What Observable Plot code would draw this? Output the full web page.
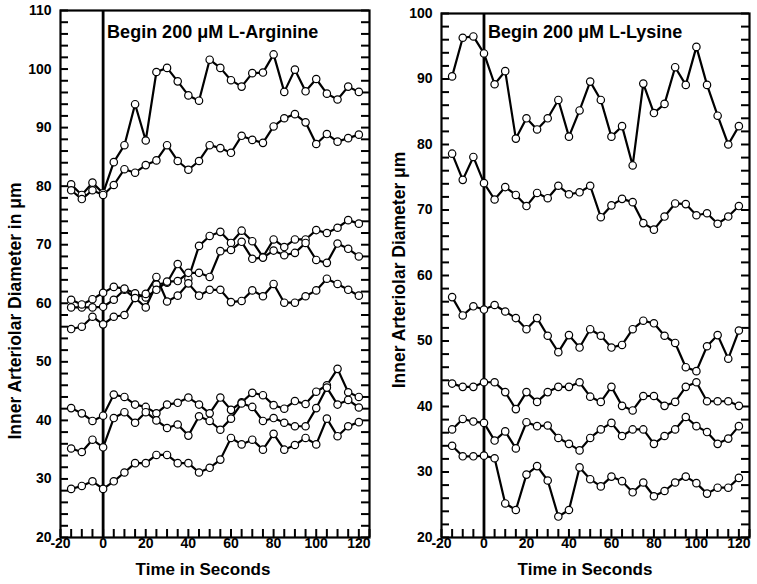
<!DOCTYPE html>
<html><head><meta charset="utf-8">
<script src="https://cdn.jsdelivr.net/npm/d3@7"></script>
<script src="https://cdn.jsdelivr.net/npm/@observablehq/plot@0.6"></script>
<style>
body{margin:0;background:#fff;}
#wrap{display:flex;width:757px;height:584px;}
#wrap svg{display:block;}
svg text{font-family:"Liberation Sans",Arial,sans-serif;font-weight:bold;fill:#000;}
</style></head><body><div id="wrap"></div>
<script>
const times = [-15,-10,-5,0,5,10,15,20,25,30,35,40,45,50,55,60,65,70,75,80,85,90,95,100,105,110,115,120];
const xMinorTicks = [-20,-15,-10,-5,0,5,10,15,20,25,30,35,40,45,50,55,60,65,70,75,80,85,90,95,100,105,110,115,120,125];
const xTickLabels = [-20,0,20,40,60,80,100,120];

// Left panel: L-Arginine
const argA = [80.3,78.5,80.6,78.8,84.1,87.0,94.0,87.8,99.5,100.2,97.9,95.5,94.6,101.6,100.2,98.1,97.0,99.3,99.4,102.5,96.1,99.9,96.2,98.3,95.8,94.8,97.0,96.1];
const argB = [79.3,77.8,79.3,78.5,80.2,82.9,82.3,83.6,84.4,87.0,84.3,82.8,84.3,87.0,86.5,85.7,88.6,87.9,87.4,90.2,91.6,92.3,90.9,87.2,88.9,87.6,88.2,88.8];
const argC = [59.3,59.3,59.3,59.4,60.6,62.3,60.9,59.3,63.2,63.5,66.7,64.2,69.8,71.5,72.2,70.3,72.4,70.6,67.9,70.9,69.6,70.9,70.9,72.5,72.0,72.9,74.2,73.6];
const argD = [60.6,59.8,60.7,61.8,62.8,62.5,61.7,61.0,62.3,63.7,63.8,65.2,65.2,64.5,68.9,69.1,70.5,67.6,67.8,69.0,68.2,68.6,70.3,67.4,66.9,70.2,69.3,68.0];
const argE = [55.6,56.0,57.7,56.4,57.7,58.0,60.9,61.6,64.5,60.3,61.3,63.4,61.3,62.3,62.3,60.2,60.4,62.2,61.2,63.3,60.1,60.1,61.2,62.2,64.2,63.3,62.3,61.3];
const argF = [42.1,41.2,39.9,40.8,44.4,44.0,42.7,42.3,41.2,42.7,43.0,43.9,42.7,41.2,43.9,41.8,43.1,44.7,44.3,42.6,42.0,43.3,42.8,44.9,46.0,48.8,44.8,44.0];
const argG = [35.2,34.6,36.7,35.4,40.4,41.4,39.6,41.4,40.0,38.7,39.3,37.4,40.7,39.9,38.4,40.3,42.9,42.3,39.9,40.4,39.6,39.0,39.0,42.1,45.6,42.7,43.5,42.2];
const argH = [28.3,28.8,29.6,28.3,29.6,31.1,32.7,32.7,34.1,34.1,32.7,32.7,31.1,31.9,33.3,37.0,35.9,36.7,35.0,37.7,35.0,35.8,37.0,35.9,40.3,37.3,39.0,39.7];

// Right panel: L-Lysine
const lysA = [90.4,96.3,96.5,93.9,89.2,91.2,80.9,84.0,82.3,84.0,86.8,81.2,85.2,89.6,86.8,81.2,82.8,76.8,89.3,84.8,86.2,91.8,89.1,94.9,89.1,84.4,80.0,82.8];
const lysB = [78.6,74.6,78.1,74.1,71.6,73.5,72.3,70.6,72.6,71.8,73.7,72.4,72.7,73.7,68.9,70.7,71.7,71.2,68.0,67.0,69.0,71.0,70.9,69.2,69.5,67.9,69.0,70.6];
const lysC = [56.7,53.9,55.3,54.8,55.5,54.5,53.5,51.8,53.5,50.8,48.3,50.9,49.0,51.8,50.8,49.0,49.4,51.8,53.1,52.7,50.8,49.7,46.0,45.4,49.2,50.9,47.3,51.6];
const lysD = [43.5,43.0,43.0,43.7,43.7,42.2,39.6,42.2,40.7,42.2,43.0,43.0,43.7,41.5,40.7,43.0,40.1,39.4,41.6,41.6,40.1,40.7,43.0,43.7,40.8,40.8,40.8,40.1];
const lysE = [36.5,38.1,37.7,37.5,34.8,36.2,33.6,37.6,37.0,37.1,35.2,34.3,33.3,35.2,36.5,37.5,35.5,36.5,36.5,34.3,35.5,36.5,38.4,37.0,36.1,34.3,35.1,37.0];
const lysF = [34.0,32.4,32.4,32.5,32.1,25.2,24.2,29.6,30.9,28.7,23.2,24.2,30.7,28.9,27.8,29.3,28.6,26.9,28.4,26.3,27.1,28.4,29.3,28.3,26.7,27.6,27.6,29.1];

const leftYLabels = [20,30,40,50,60,70,80,90,100,110];
const leftYMinor = [20,22,24,26,28,30,32,34,36,38,40,42,44,46,48,50,52,54,56,58,60,62,64,66,68,70,72,74,76,78,80,82,84,86,88,90,92,94,96,98,100,102,104,106,108,110];
const rightYLabels = [20,30,40,50,60,70,80,90,100];
const rightYMinor = [20,22,24,26,28,30,32,34,36,38,40,42,44,46,48,50,52,54,56,58,60,62,64,66,68,70,72,74,76,78,80,82,84,86,88,90,92,94,96,98,100];

const FONT = '"Liberation Sans", Arial, sans-serif';
const TICK = 8; // tick length in pixels

function panel(o) {
  const data = o.series.flatMap(([name, vals]) => vals.map((v, i) => ({name, t: times[i], v})));
  const H = 584, MB = 47;
  const fh = H - MB - o.mTop, fw = o.width - o.mLeft - o.mRight;
  const xDom = [-20, 125];
  const tyData = TICK * (o.yDomain[1] - o.yDomain[0]) / fh;
  const txData = TICK * (xDom[1] - xDom[0]) / fw;
  const chart = Plot.plot({
    width: o.width, height: H,
    marginLeft: o.mLeft, marginRight: o.mRight, marginTop: o.mTop, marginBottom: MB,
    x: {domain: xDom},
    y: {domain: o.yDomain},
    style: {fontFamily: FONT, fontSize: "14px", fontWeight: "bold", color: "#000", background: "#fff"},
    marks: [
      Plot.axisX({ticks: xTickLabels, tickSize: 0, tickPadding: 1, label: null, fontSize: 14, tickFormat: d => String(d)}),
      Plot.axisY({ticks: o.yLabels, tickSize: 0, tickPadding: 9, label: null, fontSize: 14, tickFormat: d => String(d)}),
      // inward ticks: bottom, left, right
      Plot.ruleX(xMinorTicks, {x: d => d, y1: o.yDomain[0], y2: o.yDomain[0] + tyData, stroke: "#000", strokeWidth: 2}),
      Plot.ruleY(o.yMinor, {y: d => d, x1: xDom[0], x2: xDom[0] + txData, stroke: "#000", strokeWidth: 2}),
      Plot.ruleY(o.yMinor, {y: d => d, x1: xDom[1] - txData, x2: xDom[1], stroke: "#000", strokeWidth: 2}),
      Plot.frame({strokeWidth: 2.2}),
      Plot.ruleX([0], {strokeWidth: 2.8}),
      Plot.line(data, {x: "t", y: "v", z: "name", stroke: "#000", strokeWidth: 2.2}),
      Plot.dot(data, {x: "t", y: "v", r: 3.7, fill: "white", stroke: "#000", strokeWidth: 1.2}),
      Plot.text([o.anno], {x: 0, frameAnchor: "top", text: d => d, textAnchor: "start", dx: 4, dy: 25 - o.mTop, fontSize: 18, fontWeight: "bold"})
    ]
  });
  const svg = d3.select(chart);
  svg.append("text").attr("x", o.xTitleX).attr("y", 575).attr("text-anchor", "middle")
    .style("font-size", "17px").text("Time in Seconds");
  svg.append("text").attr("transform", `translate(${o.yTitleX},${o.yTitleY}) rotate(-90)`)
    .attr("text-anchor", "middle").style("font-size", "17.5px").text(o.ytitle);
  return chart;
}

const wrap = document.getElementById("wrap");
wrap.appendChild(panel({
  series: [["A", argA], ["B", argB], ["C", argC], ["D", argD], ["E", argE], ["F", argF], ["G", argG], ["H", argH]],
  yDomain: [20, 110], yLabels: leftYLabels, yMinor: leftYMinor,
  width: 380, mLeft: 60, mRight: 11, mTop: 10,
  anno: "Begin 200 μM L-Arginine", ytitle: "Inner Arteriolar Diameter in μm",
  xTitleX: 203, yTitleX: 21, yTitleY: 311
}));
wrap.appendChild(panel({
  series: [["A", lysA], ["B", lysB], ["C", lysC], ["D", lysD], ["E", lysE], ["F", lysF]],
  yDomain: [20, 100], yLabels: rightYLabels, yMinor: rightYMinor,
  width: 377, mLeft: 61, mRight: 8, mTop: 13,
  anno: "Begin 200 μM L-Lysine", ytitle: "Inner Arteriolar Diameter μm",
  xTitleX: 205, yTitleX: 25, yTitleY: 270
}));
</script>
</body></html>
